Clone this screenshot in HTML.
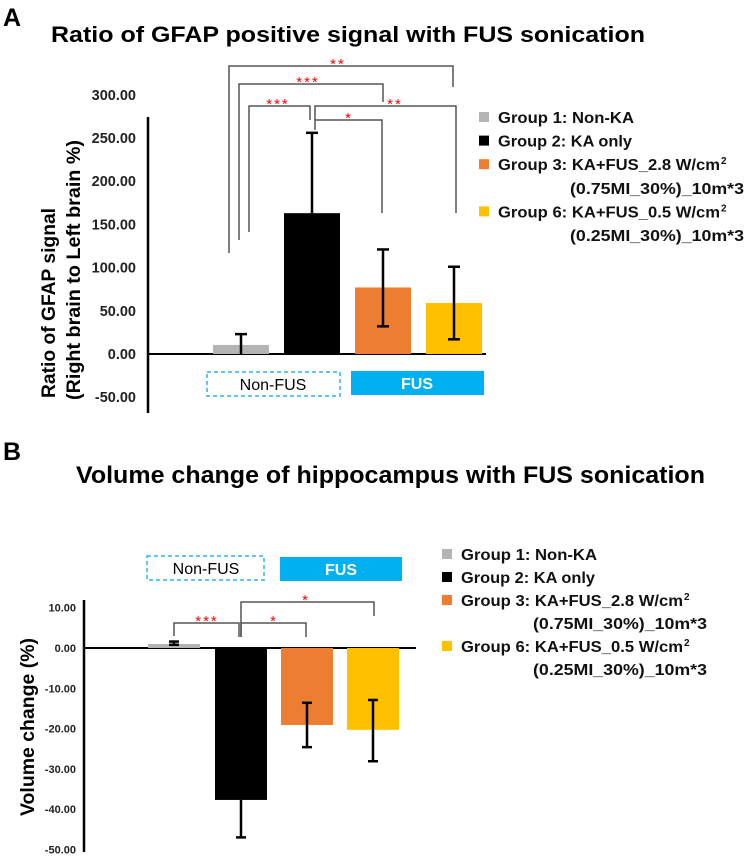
<!DOCTYPE html>
<html><head><meta charset="utf-8"><style>
html,body{margin:0;padding:0;background:#fff;}
svg{display:block;font-family:"Liberation Sans",sans-serif;font-weight:bold;}
</style></head><body>
<svg id="s" width="749" height="858" viewBox="0 0 749 858" xmlns="http://www.w3.org/2000/svg">
<text x="3" y="26" font-size="25">A</text>
<text x="51" y="42" font-size="22" textLength="594" lengthAdjust="spacingAndGlyphs">Ratio of GFAP positive signal with FUS sonication</text>
<text x="3" y="460" font-size="25">B</text>
<text x="76" y="483" font-size="24" textLength="629" lengthAdjust="spacingAndGlyphs">Volume change of hippocampus with FUS sonication</text>
<text transform="translate(55,303) rotate(-90)" text-anchor="middle" font-size="19" textLength="190" lengthAdjust="spacingAndGlyphs">Ratio of GFAP signal</text>
<text transform="translate(80,270) rotate(-90)" text-anchor="middle" font-size="19" textLength="260" lengthAdjust="spacingAndGlyphs">(Right brain to Left brain %)</text>
<text transform="translate(34,727) rotate(-90)" text-anchor="middle" font-size="19" textLength="178" lengthAdjust="spacingAndGlyphs">Volume change (%)</text>
<g id="ga"></g><g id="gb"></g>
</svg>
<script>
const groups = ["Group 1: Non-KA","Group 2: KA only","Group 3: KA+FUS_2.8 W/cm","Group 6: KA+FUS_0.5 W/cm"];
const colors = ["#b4b4b4","#000000","#ed7d31","#ffc000"];
const aTicks = [300,250,200,150,100,50,0,-50];
const aTickLabels = ["300.00","250.00","200.00","150.00","100.00","50.00","0.00","-50.00"];
const aMeans = [10.5,163,77,59];
const aErrLow = [0,71,32,17];
const aErrHigh = [23,256,121,101];
const bTicks = [10,0,-10,-20,-30,-40,-50];
const bTickLabels = ["10.00","0.00","-10.00","-20.00","-30.00","-40.00","-50.00"];
const bMeans = [1.0,-37.7,-19.1,-20.3];
const bErrLow = [0.8,-47,-24.6,-28.1];
const bErrHigh = [1.6,-37.7,-13.6,-12.9];
const NS="http://www.w3.org/2000/svg";
function mk(p,tag,at,txt){const e=document.createElementNS(NS,tag);for(const k in at)e.setAttribute(k,at[k]);if(txt!=null)e.textContent=txt;p.appendChild(e);return e;}
function yA(v){return 354-v*0.864;}
function yB(v){return 648-v*4.03;}
const ga=document.getElementById('ga'), gb=document.getElementById('gb');
let e=mk(ga,'line',{x1:148,y1:117,x2:148,y2:413,stroke:'#000','stroke-width':2.5});


e=mk(ga,'line',{x1:148,y1:yA(0),x2:486,y2:yA(0),stroke:'#000','stroke-width':2});


aTicks.forEach((t,i)=>{const el=mk(ga,'text',{x:136,y:yA(t)+5,'text-anchor':'end','font-size':14.5,fill:'#222'},aTickLabels[i]);

});
const axA=[241,312,383,454], bwA=56;
aMeans.forEach((m,i)=>{const y0=yA(0),y1=yA(m);
const r=mk(ga,'rect',{x:axA[i]-bwA/2,y:Math.min(y0,y1),width:bwA,height:Math.abs(y0-y1),fill:colors[i]});


const g=mk(ga,'g',{stroke:'#000','stroke-width':2.5});


mk(g,'line',{x1:axA[i],y1:yA(aErrLow[i]),x2:axA[i],y2:yA(aErrHigh[i])});
mk(g,'line',{x1:axA[i]-6,y1:yA(aErrHigh[i]),x2:axA[i]+6,y2:yA(aErrHigh[i])});
if(aErrLow[i]>0) mk(g,'line',{x1:axA[i]-6,y1:yA(aErrLow[i]),x2:axA[i]+6,y2:yA(aErrLow[i])});
});
function bracket(p,name,x1,x2,top,l,r,stars,sx){const g=mk(p,'g',{});


mk(g,'polyline',{points:`${x1},${l} ${x1},${top} ${x2},${top} ${x2},${r}`,fill:'none',stroke:'#555','stroke-width':1.5});
mk(g,'text',{x:sx,y:top+3,'text-anchor':'middle','font-size':15,'letter-spacing':'2',fill:'#f00','font-weight':'normal'},stars);}
bracket(ga,'sig-bracket-g1-g6',229,453,66,253,87,'**',338);
bracket(ga,'sig-bracket-g1-g3',239,383,84,240,102,'***',308);
bracket(ga,'sig-bracket-g1-g2',249,310,106,232,120,'***',278);
bracket(ga,'sig-bracket-g2-g6',315,456,106,120,213,'**',395);
bracket(ga,'sig-bracket-g2-g3',315,382,120,130,213,'*',349);
e=mk(ga,'rect',{x:207,y:372,width:133,height:24,fill:'none',stroke:'#2bb5ea','stroke-width':1.5,'stroke-dasharray':'4,3'});


mk(ga,'text',{x:273,y:390,'text-anchor':'middle','font-size':16,'font-weight':'normal'},'Non-FUS');
e=mk(ga,'rect',{x:351,y:371,width:133,height:24,fill:'#00b0f0'});


mk(ga,'text',{x:417,y:389,'text-anchor':'middle','font-size':16,fill:'#fff'},'FUS');
function legend(p,x,y0,sp){const rows=[[0,0],[1,1],[2,2],[3,4]];
const widths=[136,134,222,222];
rows.forEach(([i,r])=>{const y=y0+r*sp;
const g=mk(p,'g',{});


mk(g,'rect',{x:x,y:y-6,width:10,height:10,fill:colors[i]});
const t=mk(g,'text',{x:x+19,y:y+5,'font-size':16,fill:'#111',textLength:widths[i],lengthAdjust:'spacingAndGlyphs'},groups[i]);
if(i>=2){mk(g,'text',{x:x+19+widths[i]+1,y:y-1,'font-size':10,fill:'#111'},'2');
mk(g,'text',{x:x+91,y:y+sp+5,'font-size':16,fill:'#111',textLength:174,lengthAdjust:'spacingAndGlyphs'},i==2?'(0.75MI_30%)_10m*3':'(0.25MI_30%)_10m*3');}
});}
legend(ga,479,118,23.6);
e=mk(gb,'line',{x1:84,y1:600,x2:84,y2:852,stroke:'#000','stroke-width':2.5});


e=mk(gb,'line',{x1:84,y1:yB(0),x2:416,y2:yB(0),stroke:'#000','stroke-width':2});


bTicks.forEach((t,i)=>{const el=mk(gb,'text',{x:76,y:yB(t)+4,'text-anchor':'end','font-size':11,fill:'#222'},bTickLabels[i]);

});
const axB=[174,241,307,373], bwB=52;
bMeans.forEach((m,i)=>{const y0=yB(0),y1=yB(m);
const r=mk(gb,'rect',{x:axB[i]-bwB/2,y:Math.min(y0,y1),width:bwB,height:Math.abs(y0-y1),fill:colors[i]});


const g=mk(gb,'g',{stroke:'#000','stroke-width':2.5});


mk(g,'line',{x1:axB[i],y1:yB(bErrLow[i]),x2:axB[i],y2:yB(bErrHigh[i])});
mk(g,'line',{x1:axB[i]-5,y1:yB(bErrLow[i]),x2:axB[i]+5,y2:yB(bErrLow[i])});
if(i!=1) mk(g,'line',{x1:axB[i]-5,y1:yB(bErrHigh[i]),x2:axB[i]+5,y2:yB(bErrHigh[i])});
});
bracket(gb,'sig-bracket-b-g1-g2',174,239,623,636,637,'***',207);
bracket(gb,'sig-bracket-b-g2-g3',241,306,623,637,637,'*',274);
bracket(gb,'sig-bracket-b-g2-g6',241,374,602,637,616,'*',306);
e=mk(gb,'rect',{x:147,y:556,width:117,height:24,fill:'none',stroke:'#2bb5ea','stroke-width':1.5,'stroke-dasharray':'4,3'});


mk(gb,'text',{x:206,y:574,'text-anchor':'middle','font-size':16,'font-weight':'normal'},'Non-FUS');
e=mk(gb,'rect',{x:280,y:557,width:122,height:24,fill:'#00b0f0'});


mk(gb,'text',{x:341,y:575,'text-anchor':'middle','font-size':16,fill:'#fff'},'FUS');
legend(gb,442,555,23);
</script>
</body></html>
